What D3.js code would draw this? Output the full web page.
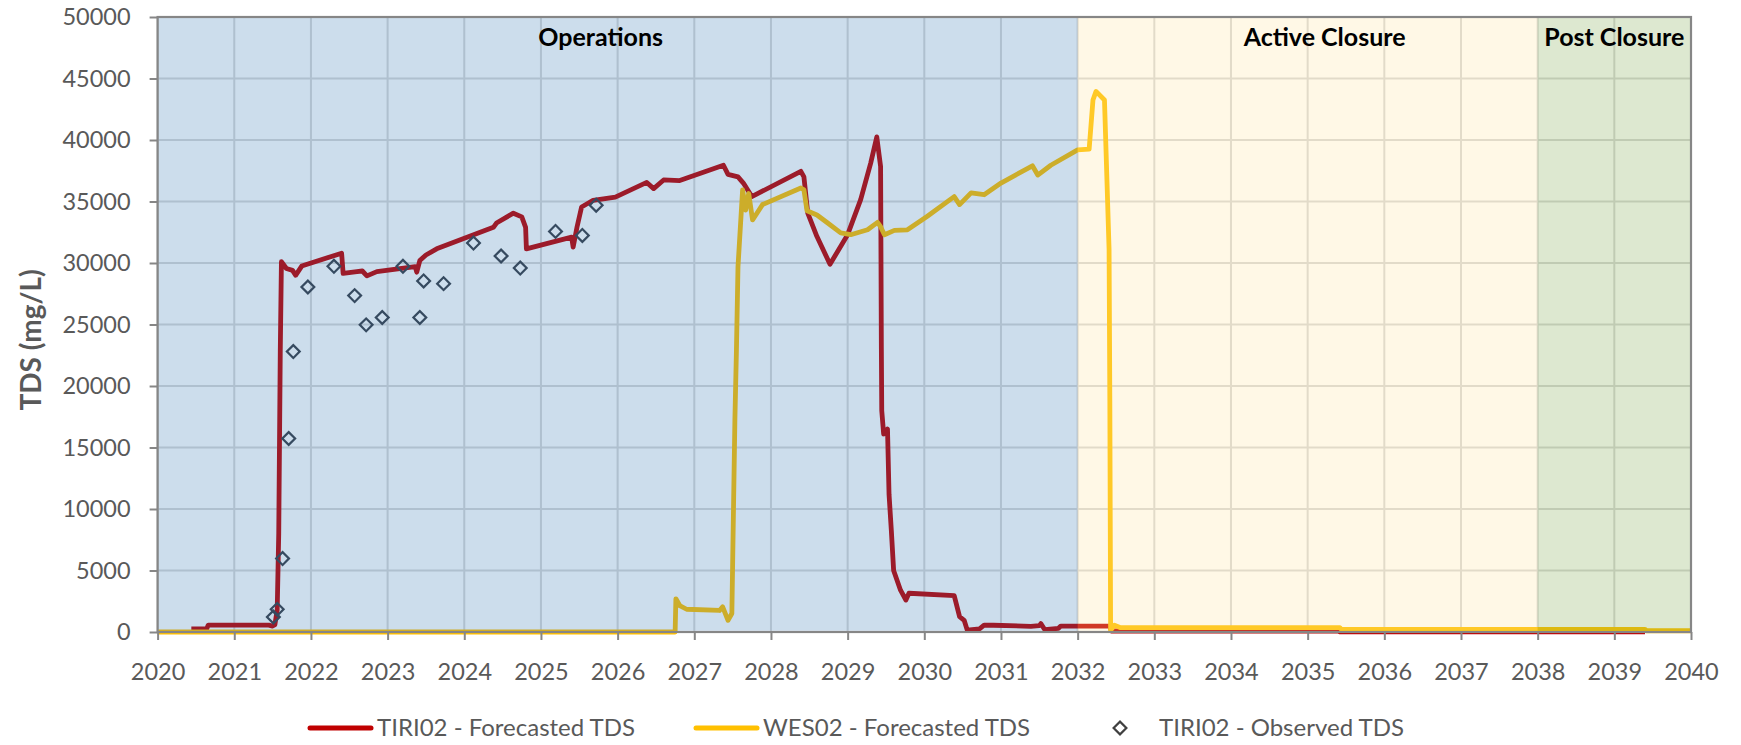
<!DOCTYPE html>
<html lang="en">
<head>
<meta charset="utf-8">
<title>TDS forecast</title>
<script src="https://d3js.org/d3.v7.min.js"></script>
<style>
  body { margin: 0; background: #fff; }
  svg { display: block; font-family: Lato, "Open Sans", sans-serif; }
</style>
</head>
<body>
<div id="chart"></div>
<script>
// ---- data ----
// phases of the mine
const phaseNames = ["Operations", "Active Closure", "Post Closure"];
const phaseStart = [2020, 2032, 2038];
const phaseEnd   = [2032, 2038, 2040];

// TIRI02 forecasted TDS [year, mg/L]
const tiri02Forecast = [
  [2020.44, 250], [2020.64, 250], [2020.66, 560], [2021.45, 560], [2021.5, 480], [2021.53, 600],
  [2021.56, 1800], [2021.58, 8000], [2021.6, 22800], [2021.615, 30100], [2021.68, 29550],
  [2021.76, 29400], [2021.8, 29000], [2021.88, 29750], [2022.4, 30800], [2022.42, 29150],
  [2022.6, 29300], [2022.67, 29350], [2022.73, 28950], [2022.86, 29300], [2023.36, 29700],
  [2023.38, 29250], [2023.42, 30200], [2023.5, 30650], [2023.64, 31150], [2024.38, 32900],
  [2024.42, 33250], [2024.64, 34050], [2024.75, 33750], [2024.8, 32900], [2024.81, 31150],
  [2025.4, 32100], [2025.42, 31300], [2025.47, 32900], [2025.53, 34550], [2025.68, 35100],
  [2025.97, 35350], [2026.38, 36550], [2026.47, 36050], [2026.6, 36750], [2026.81, 36700],
  [2027.38, 37950], [2027.44, 37200], [2027.57, 37000], [2027.64, 36500], [2027.75, 35400],
  [2028.39, 37450], [2028.43, 37000], [2028.48, 34050], [2028.6, 32150], [2028.77, 29900],
  [2029.0, 32300], [2029.17, 35150], [2029.3, 38100], [2029.38, 40250], [2029.43, 37850],
  [2029.44, 23000], [2029.445, 18000], [2029.47, 16100], [2029.52, 16500], [2029.54, 11200],
  [2029.57, 8250], [2029.6, 5000], [2029.69, 3400], [2029.76, 2600], [2029.8, 3150],
  [2030.39, 2950], [2030.46, 1250], [2030.52, 950], [2030.56, 150], [2030.72, 250],
  [2030.78, 550], [2030.9, 550], [2031.39, 460], [2031.5, 520], [2031.52, 680], [2031.57, 200],
  [2031.75, 300], [2031.78, 480], [2032.0, 470], [2032.42, 470], [2032.44, 80], [2035.4, 80],
  [2035.42, 20], [2039.4, 20]
];

// WES02 forecasted TDS [year, mg/L]
const wes02Forecast = [
  [2020, 0], [2026.75, 0], [2026.76, 2700], [2026.81, 2150], [2026.9, 1850], [2027.33, 1750],
  [2027.37, 2050], [2027.44, 950], [2027.49, 1500], [2027.53, 17400], [2027.55, 23000],
  [2027.57, 29700], [2027.63, 35950], [2027.67, 34300], [2027.71, 35650], [2027.76, 33500],
  [2027.89, 34750], [2028.39, 36100], [2028.43, 35950], [2028.47, 34250], [2028.6, 33900],
  [2028.74, 33250], [2028.91, 32450], [2029.04, 32300], [2029.26, 32700], [2029.39, 33300],
  [2029.43, 32950], [2029.48, 32300], [2029.61, 32650], [2029.78, 32700], [2030.04, 33800],
  [2030.39, 35400], [2030.46, 34750], [2030.61, 35700], [2030.78, 35550], [2031.0, 36500],
  [2031.41, 37900], [2031.48, 37150], [2031.65, 37950], [2032.0, 39200], [2032.15, 39250],
  [2032.2, 43250], [2032.24, 43950], [2032.35, 43250], [2032.37, 39200], [2032.41, 31100],
  [2032.42, 18800], [2032.43, 150], [2032.48, 550], [2032.56, 350], [2035.42, 350],
  [2035.44, 220], [2039.4, 220], [2039.42, 100], [2040, 100]
];

// TIRI02 observed TDS
const obsYear = [2021.51, 2021.56, 2021.63, 2021.71, 2021.77, 2021.96, 2022.3, 2022.57, 2022.72, 2022.93,
                 2023.2, 2023.42, 2023.47, 2023.73, 2024.12, 2024.48, 2024.73, 2025.19, 2025.54, 2025.72];
const obsTds  = [1220, 1840, 5970, 15730, 22800, 28050, 29730, 27350, 24970, 25570,
                 29730, 25570, 28540, 28320, 31620, 30570, 29590, 32570, 32240, 34700];

const yTicks = d3.range(0, 50001, 5000);
const xTicks = d3.range(2020, 2041, 1);

// ---- layout ----
const W = 1741, H = 745;
const margin = {top: 17, right: 50, bottom: 113, left: 157.6};
const width = W - margin.left - margin.right,
      height = H - margin.top - margin.bottom;

const svg = d3.select("#chart").append("svg")
    .attr("width", W)
    .attr("height", H);
const g = svg.append("g")
    .attr("transform", `translate(${margin.left},${margin.top})`);

const x = d3.scaleLinear().domain([2020, 2040]).range([0, width]);
const y = d3.scaleLinear().domain([0, 50000]).range([height, 0]);

// gridlines
g.append("g")
  .selectAll("line.h")
  .data(yTicks)
  .join("line")
    .attr("x1", 0).attr("x2", width)
    .attr("y1", d => y(d)).attr("y2", d => y(d))
    .attr("stroke", "#d9d9d9").attr("stroke-width", 2);
g.append("g")
  .selectAll("line.v")
  .data(xTicks)
  .join("line")
    .attr("y1", 0).attr("y2", height)
    .attr("x1", d => x(d)).attr("x2", d => x(d))
    .attr("stroke", "#d9d9d9").attr("stroke-width", 2);

// series
const line = d3.line().x(d => x(d[0])).y(d => y(d[1]));
g.append("path").datum(tiri02Forecast)
  .attr("d", line)
  .attr("fill", "none").attr("stroke", "#c00000")
  .attr("stroke-width", 4.8).attr("stroke-linejoin", "round");
g.append("path").datum(wes02Forecast)
  .attr("d", line)
  .attr("fill", "none").attr("stroke", "#ffc000")
  .attr("stroke-width", 4.8).attr("stroke-linejoin", "round");

const diamond = d3.symbol().type(d3.symbolSquare).size(82);
g.append("g")
  .selectAll("path")
  .data(obsYear.map((t, i) => [t, obsTds[i]]))
  .join("path")
    .attr("d", diamond)
    .attr("transform", d => `translate(${x(d[0])},${y(d[1])}) rotate(45)`)
    .attr("fill", "none")
    .attr("stroke", "#3a3f48")
    .attr("stroke-width", 2.2);

// phase shading, semi transparent, laid over the series (stops just above 0)
const phaseFill = ["rgba(42,113,176,0.24)", "rgba(255,227,155,0.25)", "rgba(119,163,67,0.25)"];
const phases = phaseNames.map((n, i) => ({name: n, a: phaseStart[i], b: phaseEnd[i], i}));
g.append("g")
  .selectAll("rect")
  .data(phases)
  .join("rect")
    .attr("x", d => x(d.a))
    .attr("width", d => x(d.b) - x(d.a))
    .attr("y", 0)
    .attr("height", y(100))
    .attr("fill", d => phaseFill[d.i]);

const labelShift = [-17, 17, 0];
g.append("g")
  .selectAll("text")
  .data(phases)
  .join("text")
    .attr("x", d => (x(d.a) + x(d.b)) / 2 + labelShift[d.i])
    .attr("y", 29)
    .attr("text-anchor", "middle")
    .attr("font-size", "25px")
    .attr("font-weight", 700)
    .attr("fill", "#000")
    .text(d => d.name);

// axes
const axisColor = "#868686", textColor = "#595959";
const yAxis = g.append("g")
  .call(d3.axisLeft(y).tickValues(yTicks).tickSize(8).tickPadding(19).tickFormat(d3.format("d")));
const xAxis = g.append("g")
  .attr("transform", `translate(0,${height})`)
  .call(d3.axisBottom(x).tickValues(xTicks).tickSize(8).tickPadding(23).tickFormat(d3.format("d")));
[yAxis, xAxis].forEach(a => {
  a.select(".domain").remove();
  a.selectAll(".tick line").attr("stroke", axisColor).attr("stroke-width", 2);
  a.selectAll(".tick text").attr("fill", textColor).attr("font-size", "23.5px")
    .attr("font-family", "Lato, 'Open Sans', sans-serif");
});

// plot frame
g.append("rect")
  .attr("x", 0).attr("y", 0).attr("width", width).attr("height", height)
  .attr("fill", "none").attr("stroke", axisColor).attr("stroke-width", 2.2);

// y title
svg.append("text")
  .attr("transform", `translate(31,${margin.top + y(23750)})rotate(-90)`)
  .attr("text-anchor", "middle")
  .attr("dy", "0.35em")
  .attr("font-size", "28px")
  .attr("font-weight", 700)
  .attr("fill", textColor)
  .text("TDS (mg/L)");

// legend
const legendY = 728;
const legend = svg.append("g").attr("font-size", "24px").attr("fill", textColor);
const legItems = [
  {kind: "line", color: "#c00000", label: "TIRI02 - Forecasted TDS", x0: 310},
  {kind: "line", color: "#ffc000", label: "WES02 - Forecasted TDS", x0: 696},
  {kind: "marker", color: "#404040", label: "TIRI02 - Observed TDS", x0: 1111}
];
legItems.forEach(it => {
  if (it.kind === "line") {
    legend.append("line")
      .attr("x1", it.x0).attr("x2", it.x0 + 61)
      .attr("y1", legendY).attr("y2", legendY)
      .attr("stroke", it.color).attr("stroke-width", 5).attr("stroke-linecap", "round");
    legend.append("text").attr("x", it.x0 + 67).attr("y", legendY).attr("dy", "0.35em").text(it.label);
  } else {
    legend.append("path")
      .attr("d", diamond)
      .attr("transform", `translate(${it.x0 + 9},${legendY}) rotate(45)`)
      .attr("fill", "none").attr("stroke", it.color).attr("stroke-width", 2.2);
    legend.append("text").attr("x", it.x0 + 48).attr("y", legendY).attr("dy", "0.35em").text(it.label);
  }
});
</script>
</body>
</html>
